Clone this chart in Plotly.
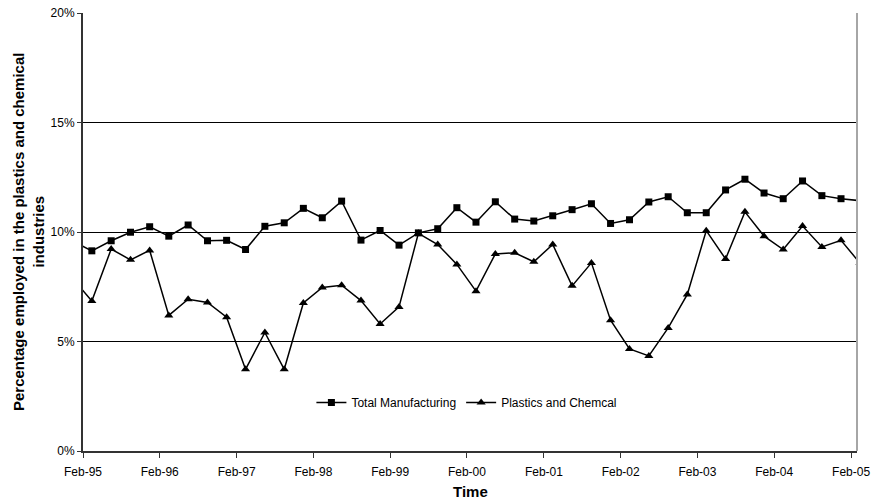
import pandas as pd
import plotly.graph_objects as go

# Quarterly observations, mid-month (the Nov-94 value only shows as the line entering the frame)
dates = pd.date_range("1994-11-15", periods=42, freq="3MS") + pd.Timedelta(days=14)

total_manufacturing = [
    9.57,
    9.14, 9.60, 9.99, 10.24, 9.81, 10.32, 9.60, 9.62, 9.20, 10.26,
    10.42, 11.08, 10.65, 11.41, 9.63, 10.07, 9.40, 9.96, 10.15, 11.11,
    10.45, 11.38, 10.59, 10.50, 10.74, 11.02, 11.29, 10.39, 10.56, 11.37,
    11.61, 10.88, 10.88, 11.92, 12.41, 11.78, 11.52, 12.33, 11.66, 11.52,
    11.43,
]
plastics_chemical = [
    7.86,
    6.85, 9.22, 8.73, 9.16, 6.19, 6.93, 6.78, 6.11, 3.73, 5.41,
    3.73, 6.76, 7.47, 7.57, 6.87, 5.80, 6.58, 9.94, 9.43, 8.52,
    7.30, 9.00, 9.05, 8.64, 9.43, 7.54, 8.59, 5.97, 4.66, 4.34,
    5.62, 7.15, 10.06, 8.77, 10.92, 9.81, 9.20, 10.27, 9.32, 9.62,
    8.58,
]

tick_dates = [f"{y}-02-01" for y in range(1995, 2006)]
tick_labels = [f"Feb-{y % 100:02d}" for y in range(1995, 2006)]
y_ticks = [0, 5, 10, 15, 20]
y_tick_labels = ["0%", "5%", "10%", "15%", "20%"]

FONT = "Liberation Sans, Arial, sans-serif"

fig = go.Figure()
fig.add_trace(go.Scatter(
    x=dates, y=total_manufacturing, name="Total Manufacturing",
    mode="lines+markers",
    line=dict(color="black", width=1.5),
    marker=dict(symbol="square", size=7, color="black"),
))
fig.add_trace(go.Scatter(
    x=dates, y=plastics_chemical, name="Plastics and Chemcal",
    mode="lines+markers",
    line=dict(color="black", width=1.5),
    marker=dict(symbol="triangle-up", size=8, color="black"),
))

# right edge of the plot frame
fig.add_shape(type="line", xref="paper", yref="paper", x0=1, x1=1, y0=0, y1=1,
              line=dict(color="#a6a6a6", width=2))

fig.update_layout(
    width=875, height=504,
    margin=dict(l=83, r=18, t=13, b=53, pad=0, autoexpand=False),
    paper_bgcolor="white", plot_bgcolor="white",
    font=dict(family=FONT, size=12, color="black"),
    showlegend=True,
    legend=dict(
        orientation="h", x=0.496, y=0.111, xanchor="center", yanchor="middle",
        font=dict(size=12), bgcolor="rgba(0,0,0,0)", itemwidth=30,
    ),
    xaxis=dict(
        type="date", range=["1995-02-01", "2005-03-01"],
        tickvals=tick_dates, ticktext=tick_labels,
        ticks="outside", ticklen=5, tickcolor="#333333", tickwidth=1,
        ticklabelstandoff=4,
        showline=True, linecolor="#333333", linewidth=2,
        showgrid=False, zeroline=False, automargin=False,
        tickfont=dict(size=12),
    ),
    yaxis=dict(
        range=[0, 20], tickvals=y_ticks, ticktext=y_tick_labels,
        ticks="outside", ticklen=4, tickcolor="#333333", tickwidth=1,
        showline=True, linecolor="#333333", linewidth=2,
        showgrid=True, gridcolor="black", gridwidth=1,
        zeroline=False, automargin=False, tickfont=dict(size=12),
    ),
    annotations=[
        dict(text="<b>Percentage employed in the plastics and chemical<br>industries</b>",
             textangle=-90, xref="paper", yref="paper",
             x=(28 - 83) / 774, y=0.5, xanchor="center", yanchor="middle",
             showarrow=False, font=dict(size=15, family=FONT)),
        dict(text="<b>Time</b>", xref="paper", yref="paper",
             x=0.5, y=(450.6 - 491) / 437.2, xanchor="center", yanchor="middle",
             showarrow=False, font=dict(size=15, family=FONT)),
    ],
)

fig.write_html("out.html")
